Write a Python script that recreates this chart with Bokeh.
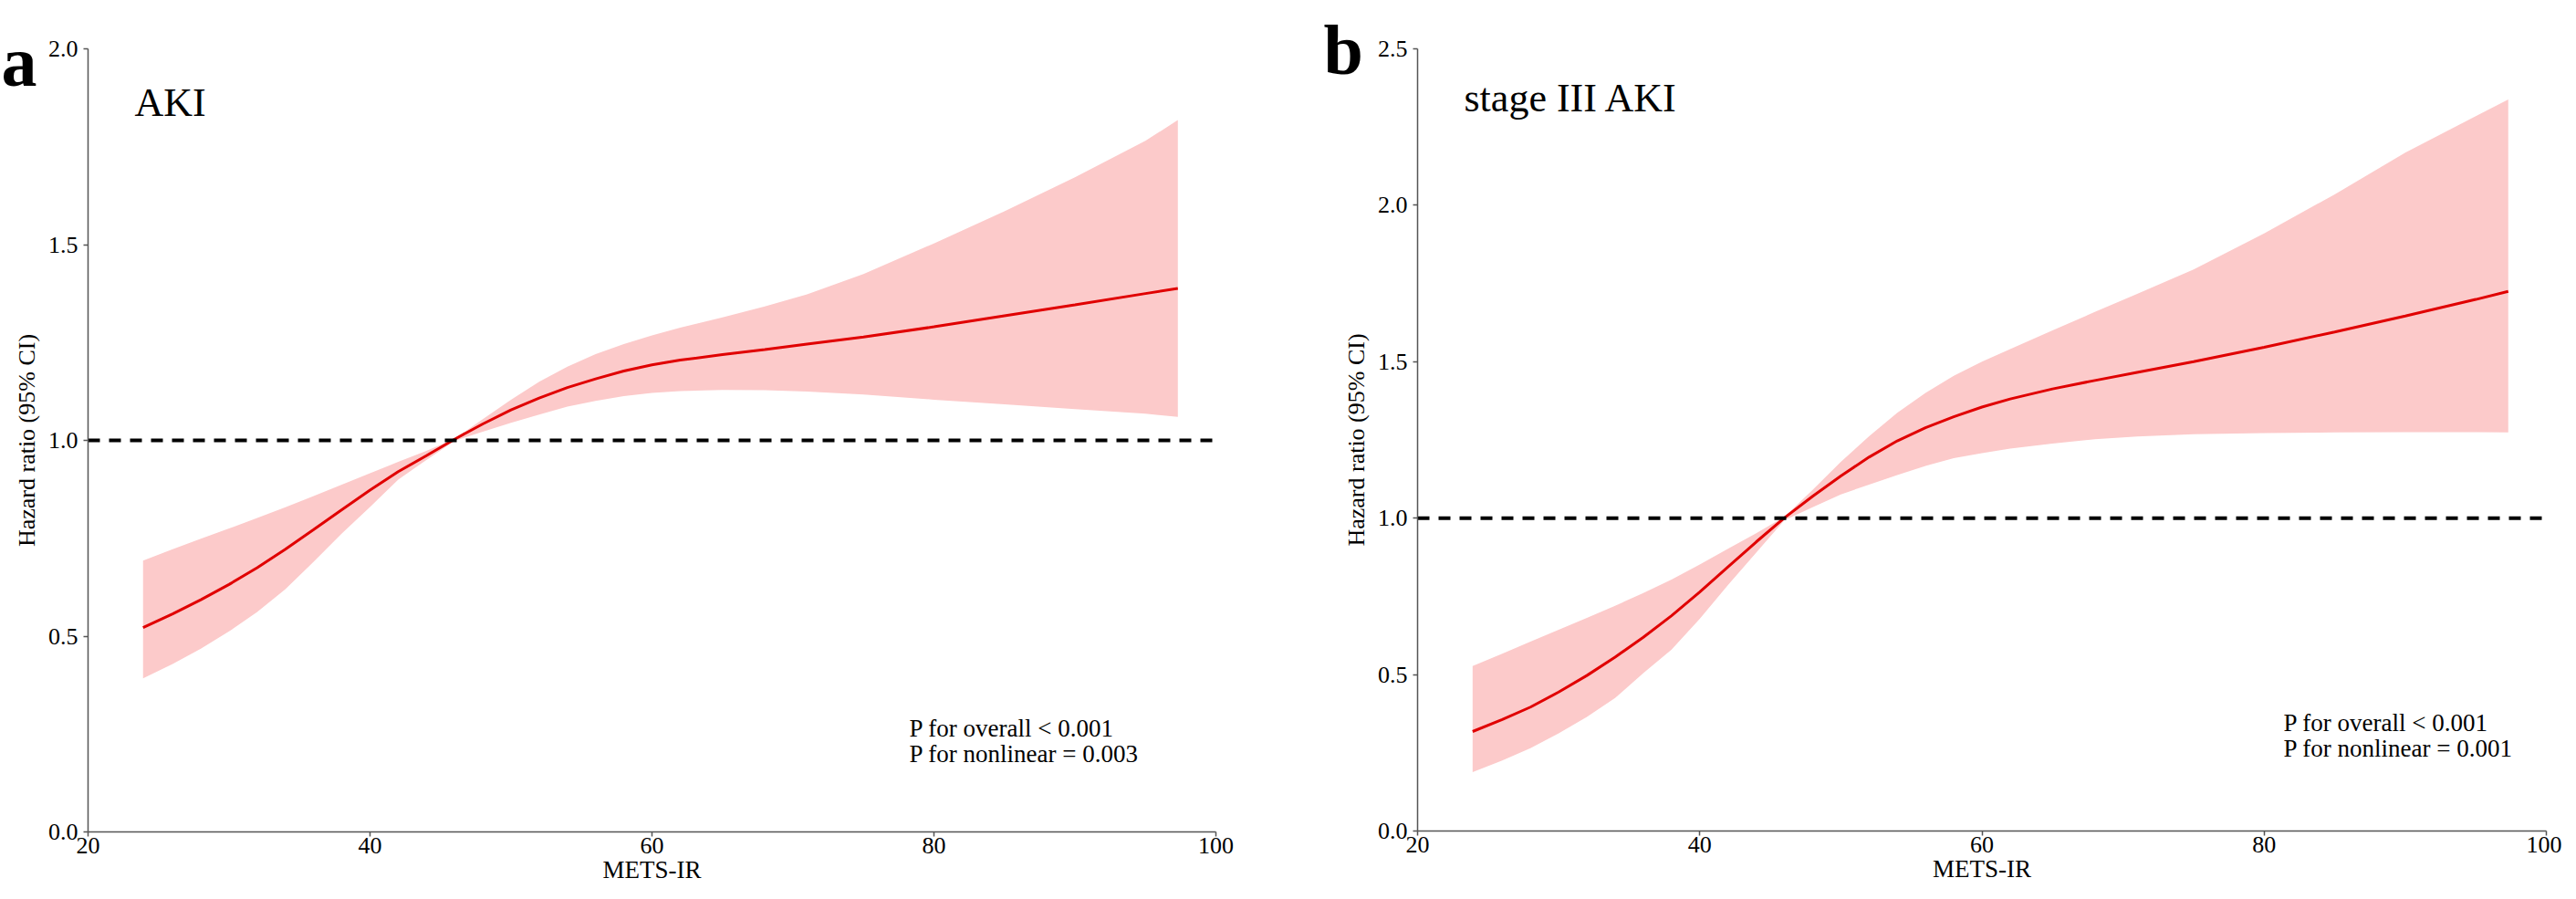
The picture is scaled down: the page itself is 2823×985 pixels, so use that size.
from bokeh.plotting import figure
from bokeh.models import Label, Range1d, FixedTicker, PrintfTickFormatter
from bokeh.layouts import row
from bokeh.embed import file_html
from bokeh.resources import INLINE

# values
mets_ir = [23.9, 26, 28, 30, 32, 34, 36, 38, 40, 42, 44, 46, 48, 50, 52, 54, 56, 58, 60,
           62, 65, 68, 71, 75, 80, 85, 90, 95, 97.3]

aki_hr = [0.522, 0.557, 0.593, 0.632, 0.675, 0.722, 0.772, 0.823, 0.873, 0.920, 0.961,
          1.003, 1.042, 1.078, 1.108, 1.135, 1.157, 1.177, 1.193, 1.205, 1.219, 1.232,
          1.246, 1.264, 1.290, 1.318, 1.346, 1.375, 1.388]
aki_lower = [0.392, 0.429, 0.468, 0.512, 0.562, 0.620, 0.690, 0.762, 0.830, 0.900, 0.950,
             0.999, 1.022, 1.045, 1.066, 1.086, 1.101, 1.113, 1.121, 1.126, 1.129, 1.128,
             1.125, 1.117, 1.104, 1.092, 1.080, 1.068, 1.060]
aki_upper = [0.693, 0.722, 0.749, 0.775, 0.802, 0.829, 0.858, 0.887, 0.916, 0.945, 0.973,
             1.004, 1.054, 1.104, 1.150, 1.188, 1.220, 1.246, 1.268, 1.288, 1.314, 1.342,
             1.373, 1.425, 1.503, 1.585, 1.672, 1.765, 1.818]

stage3_hr = [0.318, 0.356, 0.396, 0.444, 0.497, 0.556, 0.619, 0.688, 0.764, 0.844, 0.924,
             1.001, 1.070, 1.135, 1.195, 1.247, 1.289, 1.324, 1.355, 1.381, 1.413, 1.440,
             1.466, 1.500, 1.546, 1.595, 1.646, 1.699, 1.725]
stage3_lower = [0.188, 0.225, 0.265, 0.312, 0.365, 0.425, 0.505, 0.580, 0.678, 0.786, 0.890,
                0.993, 1.035, 1.076, 1.107, 1.138, 1.167, 1.192, 1.208, 1.222, 1.238, 1.252,
                1.261, 1.268, 1.272, 1.274, 1.275, 1.275, 1.274]
stage3_upper = [0.527, 0.567, 0.605, 0.643, 0.681, 0.720, 0.761, 0.804, 0.852, 0.902, 0.952,
                1.004, 1.090, 1.180, 1.262, 1.337, 1.400, 1.455, 1.500, 1.540, 1.600, 1.659,
                1.717, 1.795, 1.910, 2.035, 2.168, 2.285, 2.338]

x_ticks = [20, 40, 60, 80, 100]
aki_y_ticks = [0.0, 0.5, 1.0, 1.5, 2.0]
stage3_y_ticks = [0.0, 0.5, 1.0, 1.5, 2.0, 2.5]
hr_reference = 1.0

FONT = "Liberation Serif"
BAND = "#fccaca"
LINE = "#e00000"
AXIS = "#555555"
HEIGHT = 977


def make_panel(letter, title, hr, lower, upper, y_ticks, p_lines, width,
               axis_left, axis_right, axis_top, axis_bottom,
               letter_px, title_px, p_px):
    # the frame fills the whole canvas; the axes are pinned at x=20 / y=0 so the
    # panel letter can sit left of the y axis without being clipped
    x0, x1 = x_ticks[0], x_ticks[-1]
    y1 = y_ticks[-1]
    sx = (axis_right - axis_left) / (x1 - x0)
    sy = (axis_bottom - axis_top) / y1

    def dx(px):
        return x0 + (px - axis_left) / sx

    def dy(py):
        return (axis_bottom - py) / sy

    p = figure(width=width, height=HEIGHT, output_backend="svg", toolbar_location=None,
               x_range=Range1d(dx(0), dx(width)), y_range=Range1d(dy(HEIGHT), dy(0)),
               min_border=0)
    p.outline_line_color = None
    p.xgrid.visible = False
    p.ygrid.visible = False

    # confidence band, then the spline
    p.varea(x=mets_ir, y1=lower, y2=upper, fill_color=BAND, fill_alpha=1)
    p.line(mets_ir, hr, line_color=LINE, line_width=3)

    # reference line at HR = 1
    p.segment(x0=[x0], y0=[hr_reference], x1=[x1], y1=[hr_reference], line_color="black",
              line_width=4, line_dash="13 10")

    # axes
    p.xaxis.fixed_location = 0
    p.yaxis.fixed_location = x0
    p.xaxis.bounds = (x0, x1)
    p.yaxis.bounds = (0, y1)
    p.xaxis.ticker = FixedTicker(ticks=x_ticks)
    p.yaxis.ticker = FixedTicker(ticks=y_ticks)
    p.yaxis.formatter = PrintfTickFormatter(format="%.1f")
    p.xaxis.axis_label = "METS-IR"
    p.yaxis.axis_label = "Hazard ratio (95% CI)"
    for ax in (p.xaxis, p.yaxis):
        ax.axis_line_color = AXIS
        ax.axis_line_width = 1.5
        ax.major_tick_line_color = AXIS
        ax.major_tick_line_width = 1.5
        ax.major_tick_out = 5
        ax.major_tick_in = 0
        ax.minor_tick_out = 0
        ax.minor_tick_in = 0
        ax.major_label_text_font = FONT
        ax.major_label_text_font_size = "26px"
        ax.major_label_text_color = "black"
        ax.axis_label_text_font = FONT
        ax.axis_label_text_font_style = "normal"
        ax.axis_label_text_color = "black"
    p.xaxis.axis_label_text_font_size = "27px"
    p.yaxis.axis_label_text_font_size = "26px"
    p.xaxis.major_label_standoff = 1
    p.xaxis.axis_label_standoff = 0
    p.yaxis.major_label_standoff = 6
    p.yaxis.axis_label_standoff = 6

    p.add_layout(Label(x=dx(letter_px[0]), y=dy(letter_px[1]), text=letter, text_font=FONT,
                       text_font_size="78px", text_font_style="bold", text_color="black",
                       text_baseline="alphabetic"))
    p.add_layout(Label(x=dx(title_px[0]), y=dy(title_px[1]), text=title, text_font=FONT,
                       text_font_size="44px", text_color="black", text_baseline="alphabetic"))
    for i, txt in enumerate(p_lines):
        p.add_layout(Label(x=dx(p_px[0]), y=dy(p_px[1] + 28 * i), text=txt, text_font=FONT,
                           text_font_size="27px", text_color="black",
                           text_baseline="alphabetic"))
    return p


# pixel positions below are canvas coordinates (page minus the 8px margin)
p1 = make_panel("a", "AKI", aki_hr, aki_lower, aki_upper, aki_y_ticks,
                ["P for overall < 0.001", "P for nonlinear = 0.003"], 1420,
                96, 1332, 53, 911, (1, 67), (147, 112), (996, 797))
p2 = make_panel("b", "stage III AKI", stage3_hr, stage3_lower, stage3_upper, stage3_y_ticks,
                ["P for overall < 0.001", "P for nonlinear = 0.001"], 1387,
                133, 1370, 53, 910, (30, 54), (184, 107), (1082, 791))

layout = row(p1, p2)
open("out.html", "w").write(file_html(layout, INLINE))
